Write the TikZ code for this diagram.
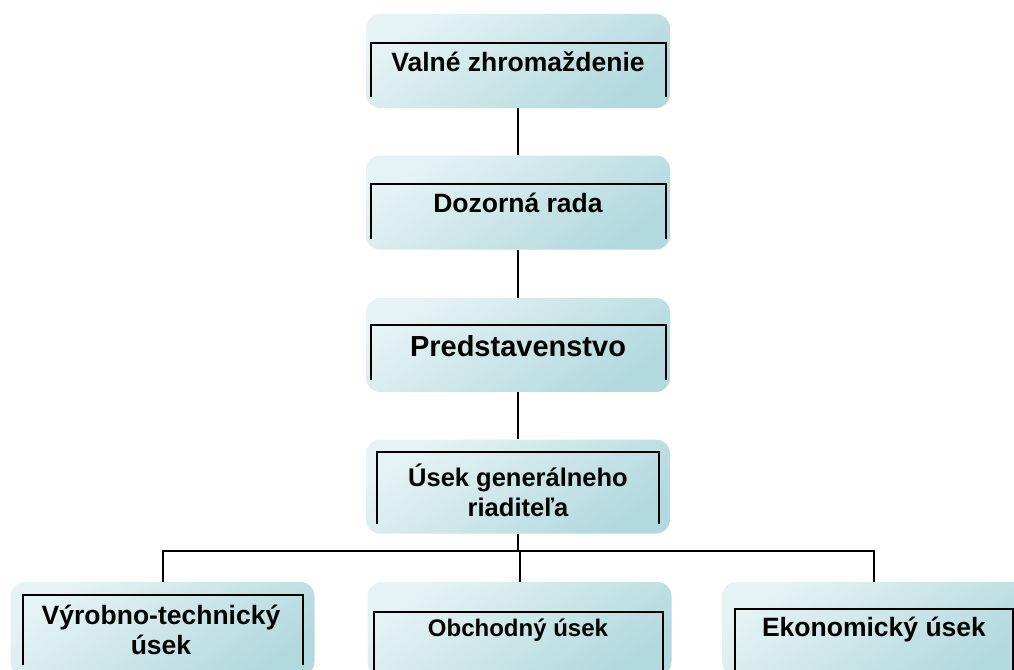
\documentclass[tikz,border=0pt]{standalone}
\usepackage{fontspec}
\setmainfont{Liberation Sans}
\definecolor{boxlight}{HTML}{E6F3F4}
\definecolor{boxdark}{HTML}{B2D9DE}
\tikzset{
  box/.style={rectangle, rounded corners=14pt, minimum width=304pt, minimum height=94pt,
    inner sep=0pt, top color=boxlight, bottom color=boxdark, shading angle=35},
  bracket/.style={line width=1.8pt, black},
  link/.style={line width=2pt, black},
  lbl/.style={font=\bfseries\fontsize{26.5}{30}\selectfont, align=center, inner sep=0pt}
}
\begin{document}
\begin{tikzpicture}[x=1pt,y=-1pt]
\useasboundingbox (0,0) rectangle (1014,669);
\clip (0,0) rectangle (1014,669);
% boxes
\node[box] (n1) at (518,61) {};
\node[box] (n2) at (518,202.5) {};
\node[box] (n3) at (518,345) {};
\node[box] (n4) at (518,486.5) {};
\node[box] (n5) at (162.5,629) {};
\node[box] (n6) at (519.5,629) {};
\node[box] (n7) at (874,629) {};
% brackets
\draw[bracket] ([xshift=5pt,yshift=11pt]n1.south west) |- ([xshift=-4pt,yshift=-29pt]n1.north east) -- ([xshift=-4pt,yshift=11pt]n1.south east);
\draw[bracket] ([xshift=5pt,yshift=11pt]n2.south west) |- ([xshift=-4pt,yshift=-29pt]n2.north east) -- ([xshift=-4pt,yshift=11pt]n2.south east);
\draw[bracket] ([xshift=5pt,yshift=12pt]n3.south west) |- ([xshift=-4pt,yshift=-27pt]n3.north east) -- ([xshift=-4pt,yshift=12pt]n3.south east);
\draw[bracket] ([xshift=11pt,yshift=10pt]n4.south west) |- ([xshift=-11pt,yshift=-13pt]n4.north east) -- ([xshift=-11pt,yshift=10pt]n4.south east);
\draw[bracket] ([xshift=13pt,yshift=11pt]n5.south west) |- ([xshift=-12pt,yshift=-13pt]n5.north east) -- ([xshift=-12pt,yshift=11pt]n5.south east);
\draw[bracket] ([xshift=7pt,yshift=0pt]n6.south west) |- ([xshift=-9pt,yshift=-30pt]n6.north east) -- ([xshift=-9pt,yshift=0pt]n6.south east);
\draw[bracket] ([xshift=13pt,yshift=0pt]n7.south west) |- ([xshift=-13pt,yshift=-27pt]n7.north east) -- ([xshift=-13pt,yshift=0pt]n7.south east);
% labels
\node[lbl] (t1) at (518,62) {Valné zhromaždenie};
\node[lbl] (t2) at (518,203) {Dozorná rada};
\node[lbl, font=\bfseries\fontsize{29}{32}\selectfont] (t3) at (518,346) {Predstavenstvo};
\node[lbl, font=\bfseries\fontsize{25.5}{30}\selectfont] (t4) at (518,490) {Úsek generálneho\\riaditeľa};
\node[lbl] (t5) at (161,630) {Výrobno-technický\\úsek};
\node[lbl, font=\bfseries\fontsize{24}{28}\selectfont] (t6) at (518,630) {Obchodný úsek};
\node[lbl] (t7) at (874,630) {Ekonomický úsek};
% connectors
\coordinate (bar) at (518,551);
\draw[link] (n1.south) -- (n2.north);
\draw[link] (n2.south) -- (n3.north);
\draw[link] (n3.south) -- (n4.north);
\draw[link] (n4.south) -- (bar);
\draw[link] (n5.north) -- (n5.north |- bar) -- (n7.north |- bar) -- (n7.north);
\draw[link] (n6.north) -- (n6.north |- bar);
\end{tikzpicture}
\end{document}
